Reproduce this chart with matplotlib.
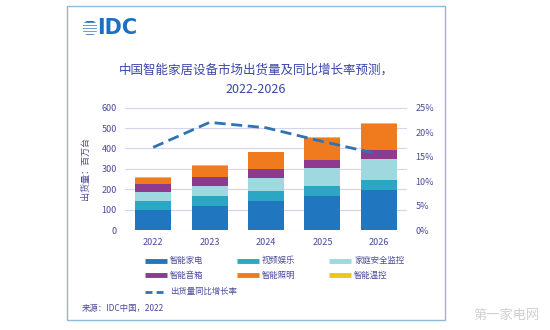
import matplotlib.pyplot as plt
import numpy as np
from matplotlib.patches import Rectangle, Circle
from matplotlib.lines import Line2D

plt.rcParams['font.family'] = ['Noto Sans CJK SC', 'DejaVu Sans']

years = ['2022', '2023', '2024', '2025', '2026']
categories = ['智能家电', '视频娱乐', '家庭安全监控', '智能音箱', '智能照明', '智能温控']
appliance = [100, 119, 142, 168, 196]
video = [42, 46, 48, 49, 51]
security = [43, 52, 67, 85, 101]
speaker = [39, 43, 42, 41, 44]
lighting = [33, 56, 82, 110, 129]
thermostat = [2, 2, 2, 2, 2]
growth = [0.169, 0.220, 0.209, 0.181, 0.155]
growth_label = '出货量同比增长率'

colors = ['#2176c0', '#2ba6c4', '#a0d8df', '#8e3a8f', '#f07b1f', '#f2c31b']
text_col = '#4a4a9a'

W, H = 550, 330
fig = plt.figure(figsize=(5.5, 3.3), dpi=100)

def fx(px):
    return px / W

def fy(py):
    return 1 - py / H

# outer frame
fig.add_artist(Rectangle((fx(67), fy(320)), fx(445) - fx(67), fy(6) - fy(320),
                         transform=fig.transFigure, fill=False,
                         edgecolor='#8fb8d6', lw=1.0))

# IDC logo
lax = fig.add_axes([fx(83), fy(35), fx(14), 14 / H])
lax.set_xlim(-1, 1)
lax.set_ylim(-1, 1)
lax.axis('off')
lax.add_patch(Circle((0, 0), 1, color='#1d6fc1'))
for yy in [-0.6, -0.2, 0.2, 0.6]:
    lax.axhspan(yy - 0.07, yy + 0.07, color='white', zorder=3)
fig.text(fx(97), fy(28.5), 'IDC', fontsize=15, fontweight='bold', color='#1d6fc1',
         ha='left', va='center', family='DejaVu Sans')

# title
fig.text(fx(256), fy(70), '中国智能家居设备市场出货量及同比增长率预测，', fontsize=9,
         color='#3a45a8', ha='center', va='center')
fig.text(fx(256), fy(89), '2022-2026', fontsize=9, color='#3a45a8',
         ha='center', va='center')

ax = fig.add_axes([fx(125), fy(230), fx(407) - fx(125), fy(107.7) - fy(230)])
x = np.arange(len(years))
series = [appliance, video, security, speaker, lighting, thermostat]
bottom = np.zeros(len(years))
for vals, c in zip(series, colors):
    ax.bar(x, vals, 0.64, bottom=bottom, color=c, zorder=2)
    bottom += np.array(vals)

ax.set_xlim(-0.5, 4.5)
ax.set_ylim(0, 600)
ax.set_yticks(range(0, 601, 100))
ax.set_xticks(x)
ax.set_xticklabels(years)
ax.grid(axis='y', color='#d4d4ec', lw=0.8, zorder=0)
for s in ax.spines.values():
    s.set_visible(False)
ax.tick_params(length=0, labelsize=6.5, labelcolor=text_col, pad=6)
ax.set_ylabel('出货量：百万台', fontsize=6.5, color=text_col, labelpad=8)

ax2 = ax.twinx()
ax2.plot(x, growth, color='#3072b2', lw=2, dashes=(4, 2), zorder=4)
ax2.set_ylim(0, 0.25)
ax2.set_yticks(np.arange(0, 0.26, 0.05))
ax2.set_yticklabels(['0%', '5%', '10%', '15%', '20%', '25%'])
for s in ax2.spines.values():
    s.set_visible(False)
ax2.tick_params(length=0, labelsize=6.5, labelcolor=text_col, pad=6)

# legend
col_x = [145, 237, 329]
row_y = [260.7, 275, 291.7]
for i, (name, c) in enumerate(zip(categories, colors)):
    px = col_x[i % 3]
    py = row_y[i // 3]
    fig.add_artist(Line2D([fx(px), fx(px + 22)], [fy(py), fy(py)],
                          transform=fig.transFigure, color=c, lw=3.5,
                          solid_capstyle='butt'))
    fig.text(fx(px + 25), fy(py), name, fontsize=6, color=text_col,
             ha='left', va='center')
fig.add_artist(Line2D([fx(145), fx(167)], [fy(row_y[2]), fy(row_y[2])],
                      transform=fig.transFigure, color='#3072b2', lw=2,
                      dashes=(2.5, 1.5)))
fig.text(fx(170), fy(row_y[2]), growth_label, fontsize=6, color=text_col,
         ha='left', va='center')

fig.text(fx(82), fy(309), '来源：IDC中国，2022', fontsize=6, color=text_col,
         ha='left', va='center')
fig.text(fx(507), fy(315), '第一家电网', fontsize=9.5, color='#d0d0d0',
         ha='center', va='center')

fig.savefig('out.png', dpi=100)
